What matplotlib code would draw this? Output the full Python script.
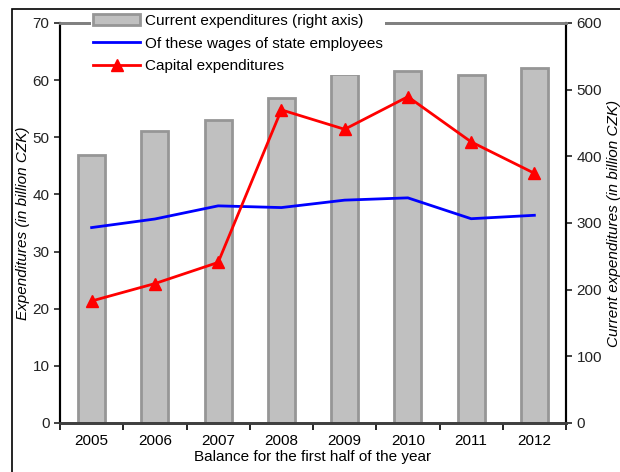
import matplotlib

matplotlib.use("Agg")
import matplotlib.pyplot as plt
from matplotlib.patches import Rectangle

plt.rcParams["font.family"] = ["Liberation Sans", "DejaVu Sans"]

years = ["2005", "2006", "2007", "2008", "2009", "2010", "2011", "2012"]
current_exp = [402, 438, 455, 488, 524, 528, 522, 533]
wages = [34.2, 35.7, 38.0, 37.7, 39.0, 39.4, 35.75, 36.35]
capital_exp = [21.35, 24.4, 28.1, 54.8, 51.4, 57.1, 49.2, 43.7]

fig = plt.figure(figsize=(6.2, 4.72), dpi=100)
ax = fig.add_axes([60 / 620, 1 - 423 / 472, (566 - 60) / 620, 400 / 472])
ax2 = ax.twinx()
ax.set_zorder(ax2.get_zorder() + 1)
ax.patch.set_visible(False)

xs = list(range(len(years)))
bars = ax2.bar(xs, current_exp, width=0.43, color="#c0c0c0", edgecolor="#969696",
               linewidth=2, label="Current expenditures (right axis)")
(l_wage,) = ax.plot(xs, wages, color="#0000ff", lw=2, label="Of these wages of state employees")
(l_cap,) = ax.plot(xs, capital_exp, color="#ff0000", lw=2, marker="^", ms=9,
                   label="Capital expenditures")

ax.set_xlim(-0.5, len(years) - 0.5)
ax.set_ylim(0, 70)
ax2.set_ylim(0, 600)
ax.set_yticks(range(0, 71, 10))
ax2.set_yticks(range(0, 601, 100))
ax.set_xticks([i - 0.5 for i in range(len(years) + 1)])
ax.set_xticklabels([])
ax.set_xticks(xs, minor=True)
ax.set_xticklabels(years, minor=True)
ax.tick_params(axis="x", which="major", length=5, width=1.2, direction="out")
ax.tick_params(axis="x", which="minor", length=0, pad=8, labelsize=11)
ax.tick_params(axis="y", length=4, width=1.2, labelsize=11, colors="#222222")
ax2.tick_params(axis="y", length=4, width=1.2, labelsize=11, colors="#222222")

for a in (ax, ax2):
    a.spines["top"].set_color("#808080")
    a.spines["top"].set_linewidth(2)
    a.spines["left"].set_linewidth(1.5)
    a.spines["right"].set_linewidth(1.5)
    a.spines["bottom"].set_color("#404040")
    a.spines["bottom"].set_linewidth(2)

ax.set_ylabel("Expenditures (in billion CZK)", fontsize=11, style="italic", labelpad=2)
ax2.set_ylabel("Current expenditures (in billion CZK)", fontsize=11, style="italic", labelpad=4)
ax.set_xlabel("Balance for the first half of the year", fontsize=11, labelpad=1)

leg = ax.legend([bars, l_wage, l_cap],
                ["Current expenditures (right axis)", "Of these wages of state employees",
                 "Capital expenditures"],
                loc="upper left", bbox_to_anchor=(0.047, 1.045), fontsize=11,
                frameon=True, fancybox=False, edgecolor="none", framealpha=1,
                handlelength=3.1, handletextpad=0.33, labelspacing=0.55, borderpad=0.1)

fig.patches.append(Rectangle((12 / 620, -0.1), 1.2, 1 - 9 / 472 + 0.1,
                             transform=fig.transFigure, fill=False,
                             edgecolor="black", linewidth=1.2))

fig.savefig("out.png", dpi=100)
